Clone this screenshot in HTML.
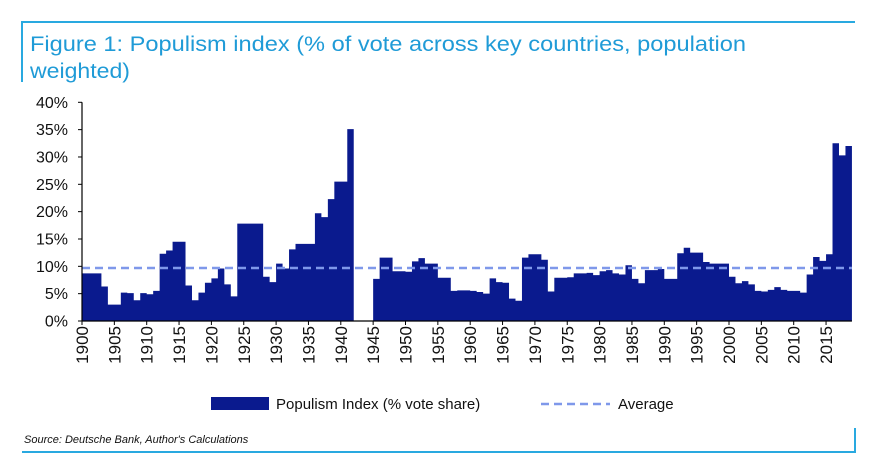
<!DOCTYPE html>
<html><head><meta charset="utf-8"><style>
body{margin:0;background:#fff;}
svg{display:block;font-family:"Liberation Sans",Arial,sans-serif;}
</style></head><body>
<svg id="chart" width="890" height="473" viewBox="0 0 890 473">
<line x1="22" y1="22" x2="855" y2="22" stroke="#29a9e0" stroke-width="2"/>
<line x1="22" y1="21" x2="22" y2="82" stroke="#29a9e0" stroke-width="2"/>
<text x="30" y="51" font-size="21" fill="#1f9bd7" textLength="716" lengthAdjust="spacingAndGlyphs">Figure 1: Populism index (% of vote across key countries, population</text>
<text x="30" y="78" font-size="21" fill="#1f9bd7" textLength="100" lengthAdjust="spacingAndGlyphs">weighted)</text>
<g id="plot"></g>
<g>
<rect x="211" y="397" width="58" height="13" fill="#0a1a8e"/>
<text x="276" y="409" font-size="15" fill="#111">Populism Index (% vote share)</text>
<line x1="541" y1="404" x2="610" y2="404" stroke="#7f98ea" stroke-width="2.5" stroke-dasharray="8,5"/>
<text x="618" y="409" font-size="15" fill="#111">Average</text>
</g>
<text x="24" y="443" font-size="11" font-style="italic" fill="#111">Source: Deutsche Bank, Author's Calculations</text>
<line x1="22" y1="452" x2="855" y2="452" stroke="#29a9e0" stroke-width="2"/>
<line x1="855" y1="428" x2="855" y2="453" stroke="#29a9e0" stroke-width="2"/>
</svg>
<script>
const startYear1 = 1900;
const values1 = [8.7,8.7,8.7,6.3,3.0,3.0,5.2,5.1,3.8,5.1,4.9,5.5,12.3,12.9,14.5,14.5,6.5,3.8,5.2,7.0,7.8,9.6,6.7,4.5,17.8,17.8,17.8,17.8,8.1,7.1,10.5,9.6,13.1,14.1,14.1,14.1,19.7,19.0,22.3,25.5,25.5,35.1];
const startYear2 = 1945;
const values2 = [7.7,11.6,11.6,9.1,9.1,9.0,10.9,11.5,10.5,10.5,7.9,7.9,5.5,5.6,5.6,5.5,5.3,5.0,7.8,7.1,7.0,4.1,3.7,11.6,12.2,12.2,11.2,5.4,7.9,7.9,8.0,8.7,8.7,8.8,8.4,9.1,9.3,8.7,8.5,10.2,7.7,6.9,9.3,9.3,9.5,7.7,7.7,12.4,13.4,12.5,12.5,10.8,10.5,10.5,10.5,8.1,6.9,7.3,6.7,5.5,5.4,5.7,6.2,5.7,5.5,5.5,5.2,8.5,11.7,11.0,12.2,32.5,30.3,32.0];
const averageValue = 9.7;
const yTicks = [0,5,10,15,20,25,30,35,40];
const xTickYears = [1900,1905,1910,1915,1920,1925,1930,1935,1940,1945,1950,1955,1960,1965,1970,1975,1980,1985,1990,1995,2000,2005,2010,2015];

const NS='http://www.w3.org/2000/svg';
const g=document.getElementById('plot');
const x0=82, yw=6.47, yb=321, yk=5.4675;
const xs=yr=>x0+(yr-1900)*yw;
const ys=v=>yb-v*yk;
function mk(t,a){const e=document.createElementNS(NS,t);for(const k in a)e.setAttribute(k,a[k]);g.appendChild(e);return e;}
function series(start,vals,name){
  let d='M'+xs(start)+','+yb;
  vals.forEach((v,i)=>{d+=' L'+xs(start+i)+','+ys(v)+' L'+xs(start+i+1)+','+ys(v);});
  d+=' L'+xs(start+vals.length)+','+yb+' Z';
  const p=mk('path',{d:d,fill:'#0a1a8e'});
  
  
}
series(startYear1,values1,'populism-bars-pre-war');
series(startYear2,values2,'populism-bars-post-war');
const avg=mk('line',{x1:x0,x2:xs(2019),y1:ys(averageValue),y2:ys(averageValue),stroke:'#7f98ea','stroke-width':2.5,'stroke-dasharray':'8,5'});


const ya=mk('line',{x1:x0,x2:x0,y1:ys(40),y2:yb,stroke:'#000','stroke-width':1.2});


const xa=mk('line',{x1:x0,x2:xs(2019),y1:yb,y2:yb,stroke:'#000','stroke-width':1.2});


yTicks.forEach(v=>{
  const tk=mk('line',{x1:x0-4,x2:x0,y1:ys(v),y2:ys(v),stroke:'#000'});
  
  
  const t=mk('text',{x:x0-14,y:ys(v)+5.5,'text-anchor':'end','font-size':16,fill:'#111'});
  t.textContent=v+'%';
  
  
});
xTickYears.forEach(yr=>{
  const x=xs(yr);
  const tk=mk('line',{x1:x,x2:x,y1:yb,y2:yb+4,stroke:'#000'});
  
  
  const t=mk('text',{x:0,y:0,'text-anchor':'end','font-size':17,fill:'#111',transform:'translate('+(x+6)+','+(yb+5)+') rotate(-90)'});
  t.textContent=yr;
  
  
});
</script>
</body></html>
